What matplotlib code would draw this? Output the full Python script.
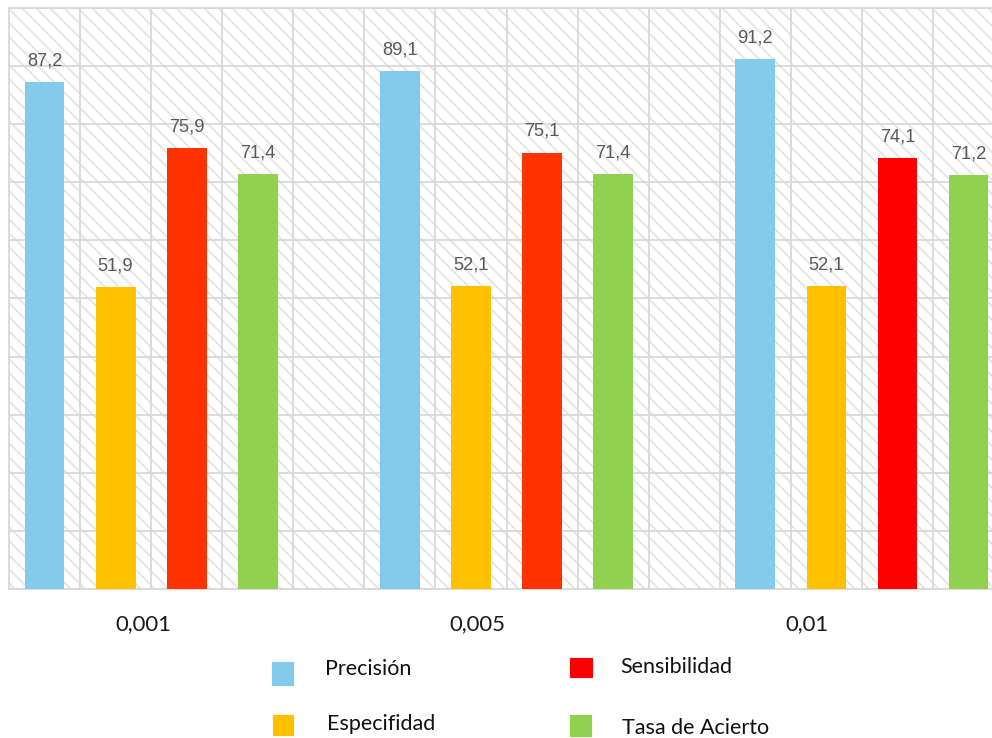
import numpy as np
import matplotlib
matplotlib.use("Agg")
import matplotlib.pyplot as plt
from matplotlib.patches import Rectangle

# datos del grafico
categorias = ["0,001", "0,005", "0,01"]
series = ["Precisión", "Especifidad", "Sensibilidad", "Tasa de Acierto"]
precision = [87.2, 89.1, 91.2]
especifidad = [51.9, 52.1, 52.1]
sensibilidad = [75.9, 75.1, 74.1]
tasa_acierto = [71.4, 71.4, 71.2]
valores = [precision, especifidad, sensibilidad, tasa_acierto]

# colores (la ultima barra roja es rojo puro en el original)
colores = ["#83CBEB", "#FFC000", "#FF3300", "#92D050"]
colores_barra = {(2, 2): "#FF0000"}
colores_leyenda = ["#83CBEB", "#FFC000", "#FF0000", "#92D050"]

# dpi 84 para que el rayado tenga ~7 px de paso
DPI = 84
W, H = 992, 738


def pt(px):
    # pixeles -> puntos
    return px * 72 / DPI


fig = plt.figure(figsize=(W / DPI, H / DPI), dpi=DPI)
plt.rcParams['hatch.linewidth'] = pt(2.0)

# el eje se sale por la derecha (imagen recortada)
celda = 71.08
ax = fig.add_axes([9 / W, (H - 589) / H, 15 * celda / W, 581 / H])
ax.set_xlim(0, 15)
ax.set_ylim(0, 100)

# fondo rayado
fondo = Rectangle((0, 0), 1, 1, transform=ax.transAxes, facecolor="white",
                  edgecolor="#e6e6e6", hatch="\\\\", linewidth=0, zorder=0)
ax.add_patch(fondo)

ax.set_xticks(np.arange(0, 16))
ax.set_yticks(np.arange(0, 101, 10))
ax.grid(True, color="#d9d9d9", linewidth=pt(1.8), zorder=1)
ax.set_axisbelow(True)
ax.tick_params(length=0, labelbottom=False, labelleft=False)
for s in ax.spines.values():
    s.set_color("#d9d9d9")
    s.set_linewidth(pt(1.8))

ancho = 0.56
for i, serie in enumerate(valores):
    for g, v in enumerate(serie):
        x = g * 5 + i + 0.5
        c = colores_barra.get((g, i), colores[i])
        ax.bar(x, v, width=ancho, color=c, zorder=3)
        ax.annotate(f"{v:.1f}".replace(".", ","), (x, v), xytext=(0, pt(17)),
                    textcoords="offset points", ha="center", va="baseline",
                    fontsize=pt(18.3), color="#595959", family="Liberation Sans")

# etiquetas de categoria (desplazadas como en el original)
desplaz = [-0.115, -0.41, -0.77]
for g, cat in enumerate(categorias):
    ax.text(g * 5 + 2 + desplaz[g], -41 / 581, cat, transform=ax.get_xaxis_transform(),
            ha="center", va="baseline", fontsize=pt(22.2), family="Lato", color="#1a1a1a")

# leyenda manual
cuadros = [(272, 662, 21, 23), (273, 715, 20, 20), (570, 658, 22, 19), (570, 715, 21, 21)]
textos = [(325, 675), (327, 730), (620, 673), (622, 734)]
for i, nombre in enumerate(series):
    x0, y0, w, h = cuadros[i]
    fig.add_artist(Rectangle((x0 / W, (H - y0 - h) / H), w / W, h / H,
                             transform=fig.transFigure, color=colores_leyenda[i]))
    tx, ty = textos[i]
    fig.text(tx / W, (H - ty) / H, nombre, ha="left", va="baseline",
             fontsize=pt(21.5), family="Lato", color="#111111")

fig.savefig("out.png", dpi=DPI)
